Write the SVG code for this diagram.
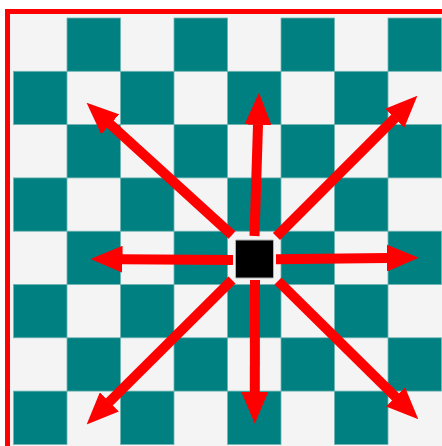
<svg xmlns="http://www.w3.org/2000/svg" width="442" height="446" viewBox="0 0 442 446">
<style>
.t{fill:#008080;stroke:#6fb5b3;stroke-width:0.8}
.arrow{stroke:#ff0000;stroke-width:10;fill:none;marker-end:url(#head)}
</style>
<defs>
<marker id="head" markerUnits="userSpaceOnUse" markerWidth="32" markerHeight="27" viewBox="0 0 32 27" refX="0.5" refY="13.5" orient="auto">
<path d="M0,0 L32,13.5 L0,27 Z" fill="#ff0000"/>
</marker>
</defs>
<rect x="0" y="0" width="442" height="446" fill="#ffffff"/>
<g id="board">
<rect x="7.5" y="11.5" width="460" height="460" fill="#f4f4f4" stroke="#ff0000" stroke-width="5"/>
<rect class="t" x="67" y="18" width="53.5" height="53.3"/>
<rect class="t" x="174" y="18" width="53.5" height="53.3"/>
<rect class="t" x="281" y="18" width="53.5" height="53.3"/>
<rect class="t" x="388" y="18" width="53.5" height="53.3"/>
<rect class="t" x="13.5" y="71.3" width="53.5" height="53.3"/>
<rect class="t" x="120.5" y="71.3" width="53.5" height="53.3"/>
<rect class="t" x="227.5" y="71.3" width="53.5" height="53.3"/>
<rect class="t" x="334.5" y="71.3" width="53.5" height="53.3"/>
<rect class="t" x="67" y="124.6" width="53.5" height="53.3"/>
<rect class="t" x="174" y="124.6" width="53.5" height="53.3"/>
<rect class="t" x="281" y="124.6" width="53.5" height="53.3"/>
<rect class="t" x="388" y="124.6" width="53.5" height="53.3"/>
<rect class="t" x="13.5" y="177.9" width="53.5" height="53.3"/>
<rect class="t" x="120.5" y="177.9" width="53.5" height="53.3"/>
<rect class="t" x="227.5" y="177.9" width="53.5" height="53.3"/>
<rect class="t" x="334.5" y="177.9" width="53.5" height="53.3"/>
<rect class="t" x="67" y="231.2" width="53.5" height="53.3"/>
<rect class="t" x="174" y="231.2" width="53.5" height="53.3"/>
<rect class="t" x="281" y="231.2" width="53.5" height="53.3"/>
<rect class="t" x="388" y="231.2" width="53.5" height="53.3"/>
<rect class="t" x="13.5" y="284.5" width="53.5" height="53.3"/>
<rect class="t" x="120.5" y="284.5" width="53.5" height="53.3"/>
<rect class="t" x="227.5" y="284.5" width="53.5" height="53.3"/>
<rect class="t" x="334.5" y="284.5" width="53.5" height="53.3"/>
<rect class="t" x="67" y="337.8" width="53.5" height="53.3"/>
<rect class="t" x="174" y="337.8" width="53.5" height="53.3"/>
<rect class="t" x="281" y="337.8" width="53.5" height="53.3"/>
<rect class="t" x="388" y="337.8" width="53.5" height="53.3"/>
<rect class="t" x="13.5" y="391.1" width="53.5" height="53.3"/>
<rect class="t" x="120.5" y="391.1" width="53.5" height="53.3"/>
<rect class="t" x="227.5" y="391.1" width="53.5" height="53.3"/>
<rect class="t" x="334.5" y="391.1" width="53.5" height="53.3"/>
</g>
<g id="connectors">
<line class="arrow" x1="254.5" y1="236" x2="258" y2="124.3"/>
<line class="arrow" x1="255" y1="280" x2="254.8" y2="392.3"/>
<line class="arrow" x1="233" y1="260" x2="122" y2="259.2"/>
<line class="arrow" x1="276" y1="259.3" x2="387.3" y2="258"/>
<line class="arrow" x1="232" y1="235" x2="109.9" y2="123.9"/>
<line class="arrow" x1="276.5" y1="236.5" x2="395.1" y2="117.9"/>
<line class="arrow" x1="232" y1="280" x2="109" y2="402.2"/>
<line class="arrow" x1="278" y1="281" x2="395.9" y2="397.2"/>
</g>
<g id="piece">
<rect x="235.5" y="240" width="38" height="38" rx="1" fill="#000000" stroke="#b0b0b0" stroke-width="1"/>
</g>
</svg>
